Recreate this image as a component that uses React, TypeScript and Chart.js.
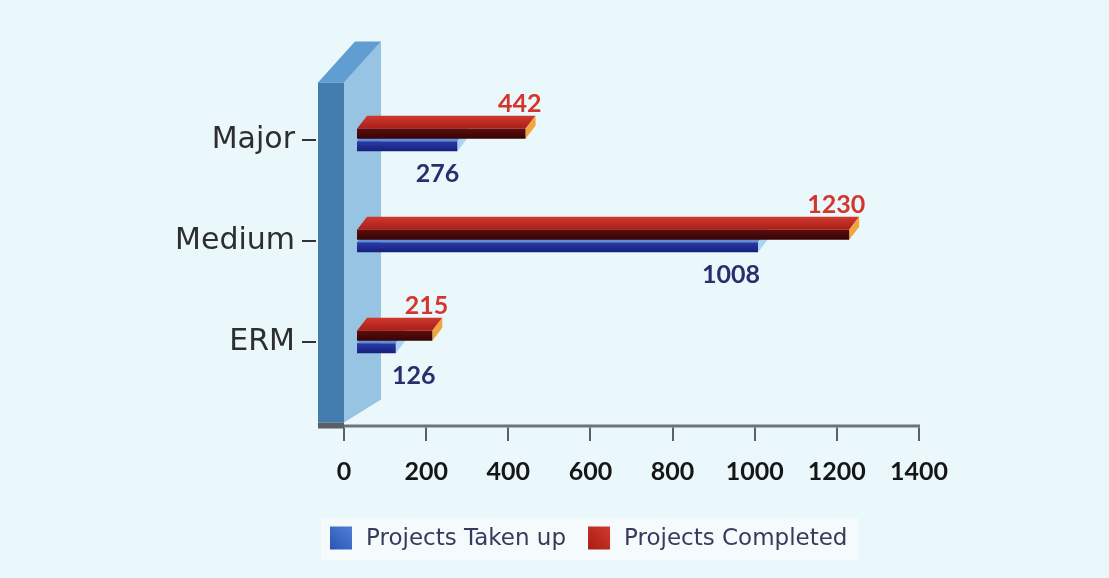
import { useEffect, useRef } from 'react';
import { Chart, registerables } from 'chart.js';

Chart.register(...registerables);

// ---- data ----
const categories = ['Major', 'Medium', 'ERM'];
const projectsTakenUp = [276, 1008, 126];
const projectsCompleted = [442, 1230, 215];
const seriesNames = ['Projects Taken up', 'Projects Completed'];
const xTickValues = [0, 200, 400, 600, 800, 1000, 1200, 1400];

// ---- styling ----
const BG = '#eaf8fb';
const DEPTH = { dx: 10, dy: 13 };
const BAR_INSET = 13; // bars emerge from the side of the wall
const WALL_DEPTH = 37;

// dataset 0 = completed (upper bar), dataset 1 = taken up (lower bar)
const faces = [
  { top: ['#d0382d', '#a81f19'], front: ['#5e0d0b', '#340404'], end: '#f2a53c', label: '#d3362f', swatch: ['#a81c14', '#d23a2c'] },
  { top: ['#7eaee8', '#5d8cd6'], front: ['#2b3ba8', '#16207a'], end: '#a9d2f3', label: '#272f6d', swatch: ['#2a55b4', '#4f80d6'] },
];

const WALL = { front: '#427dae', top: '#5f9dd2', side: '#97c4e2', base: '#5a5f6b', axis: '#6e727c' };

function poly(ctx: CanvasRenderingContext2D, pts: number[][], fill: string | CanvasGradient) {
  ctx.beginPath();
  ctx.moveTo(pts[0][0], pts[0][1]);
  for (let i = 1; i < pts.length; i++) ctx.lineTo(pts[i][0], pts[i][1]);
  ctx.closePath();
  ctx.fillStyle = fill;
  ctx.fill();
}

const threeDPlugin = {
  id: 'threeD',
  beforeDraw(chart: any) {
    const { ctx, width, height } = chart;
    ctx.save();
    ctx.fillStyle = BG;
    ctx.fillRect(0, 0, width, height);
    ctx.restore();
  },
  beforeDatasetsDraw(chart: any) {
    const { ctx, chartArea } = chart;
    const xs = chart.scales.x;
    const ys = chart.scales.y;
    const L = chartArea.left;
    const wallTop = chartArea.top - 7;
    const wallBottom = chartArea.bottom + 30;
    const frontW = 26;
    const wdx = WALL_DEPTH;
    ctx.save();
    // side face of the wall
    poly(ctx, [[L, wallTop], [L + wdx, wallTop - 41], [L + wdx, wallBottom - 23], [L, wallBottom]], WALL.side);
    // top cap
    poly(ctx, [[L - frontW, wallTop], [L, wallTop], [L + wdx, wallTop - 41], [L - frontW + wdx, wallTop - 41]], WALL.top);
    // front face
    ctx.fillStyle = WALL.front;
    ctx.fillRect(L - frontW, wallTop, frontW, wallBottom - wallTop);
    // foot of the wall
    ctx.fillStyle = WALL.base;
    ctx.fillRect(L - frontW, wallBottom, frontW, 6);

    // value axis line
    const axisY = wallBottom + 3.5;
    ctx.strokeStyle = WALL.axis;
    ctx.lineWidth = 3;
    ctx.beginPath();
    ctx.moveTo(L, axisY);
    ctx.lineTo(xs.right + 1, axisY);
    ctx.stroke();

    // value axis tick marks
    ctx.strokeStyle = '#5c5f67';
    ctx.lineWidth = 2;
    xs.ticks.forEach((t: any) => {
      const px = Math.round(xs.getPixelForValue(t.value));
      ctx.beginPath();
      ctx.moveTo(px, axisY + 1.5);
      ctx.lineTo(px, axisY + 15);
      ctx.stroke();
    });

    // category tick marks, left of the wall
    ctx.strokeStyle = '#333333';
    ctx.lineWidth = 2;
    ys.ticks.forEach((_t: any, i: number) => {
      const py = Math.round(ys.getPixelForTick(i));
      ctx.beginPath();
      ctx.moveTo(L - frontW - 16, py);
      ctx.lineTo(L - frontW - 2, py);
      ctx.stroke();
    });
    ctx.restore();
  },
  afterDatasetsDraw(chart: any) {
    const { ctx } = chart;
    const { dx, dy } = DEPTH;
    ctx.save();
    const n = chart.data.labels.length;
    for (let i = 0; i < n; i++) {
      // lower bar first, upper bar over it
      for (const di of [1, 0]) {
        const meta = chart.getDatasetMeta(di);
        const el = meta.data[i];
        const { x, y, base, height } = el.getProps(['x', 'y', 'base', 'height'], true);
        const f = faces[di];
        const left = base + BAR_INSET;
        const right = x;
        const top = y - height / 2;
        const bottom = y + height / 2;

        const tg = ctx.createLinearGradient(0, top - dy, 0, top);
        tg.addColorStop(0, f.top[0]);
        tg.addColorStop(1, f.top[1]);
        poly(ctx, [[left, top], [right, top], [right + dx, top - dy], [left + dx, top - dy]], tg);
        poly(ctx, [[right, top], [right + dx, top - dy], [right + dx, bottom - dy], [right, bottom]], f.end);
        const fg = ctx.createLinearGradient(0, top, 0, bottom);
        fg.addColorStop(0, f.front[0]);
        fg.addColorStop(1, f.front[1]);
        ctx.fillStyle = fg;
        ctx.fillRect(left, top, right - left, height);
      }
    }

    // value labels
    ctx.font = 'bold 25px Lato';
    ctx.textAlign = 'right';
    ctx.textBaseline = 'alphabetic';
    for (let i = 0; i < n; i++) {
      for (const di of [0, 1]) {
        const meta = chart.getDatasetMeta(di);
        const el = meta.data[i];
        const { x, y, base, height } = el.getProps(['x', 'y', 'base', 'height'], true);
        const text = String(chart.data.datasets[di].data[i]);
        ctx.fillStyle = faces[di].label;
        if (di === 0) {
          ctx.fillText(text, x + dx + 6, y - height / 2 - dy - 4);
        } else {
          // keep short labels clear of the wall
          const w = ctx.measureText(text).width;
          const rx = Math.max(x + 2, base + WALL_DEPTH + 11 + w);
          ctx.fillText(text, rx, y + height / 2 + 31);
        }
      }
    }
    ctx.restore();
  },
  afterDraw(chart: any) {
    const { ctx, chartArea } = chart;
    const order = [1, 0];
    const sw = 22;
    const sh = 23;
    const cy = 538;
    let cx = chartArea.left - 14;
    ctx.save();
    ctx.font = '23px "DejaVu Sans"';
    // pale panel behind the legend
    let total = 0;
    order.forEach((di, k) => {
      total += sw + 14 + ctx.measureText(chart.data.datasets[di].label).width + (k < order.length - 1 ? 22 : 0);
    });
    ctx.fillStyle = '#f5fbfd';
    ctx.fillRect(cx - 9, cy - 20, total + 20, 42);

    ctx.textBaseline = 'middle';
    ctx.textAlign = 'left';
    order.forEach((di) => {
      const f = faces[di];
      const g = ctx.createLinearGradient(cx, cy + sh / 2, cx + sw, cy - sh / 2);
      g.addColorStop(0, f.swatch[0]);
      g.addColorStop(1, f.swatch[1]);
      ctx.fillStyle = g;
      ctx.fillRect(cx, cy - sh / 2, sw, sh);
      cx += sw + 14;
      ctx.fillStyle = '#363b5b';
      const label = chart.data.datasets[di].label;
      ctx.fillText(label, cx, cy + 1);
      cx += ctx.measureText(label).width + 22;
    });
    ctx.restore();
  },
};

export default function App() {
  const canvasRef = useRef<HTMLCanvasElement | null>(null);

  useEffect(() => {
    const canvas = canvasRef.current;
    if (!canvas) return;
    const chart = new Chart(canvas, {
      type: 'bar',
      data: {
        labels: categories,
        datasets: [
          { label: seriesNames[1], data: projectsCompleted, backgroundColor: 'rgba(0,0,0,0)', borderWidth: 0 },
          { label: seriesNames[0], data: projectsTakenUp, backgroundColor: 'rgba(0,0,0,0)', borderWidth: 0 },
        ],
      },
      options: {
        indexAxis: 'y',
        responsive: false,
        animation: false,
        categoryPercentage: 0.2475,
        barPercentage: 0.8,
        layout: { padding: { top: 89.5, right: 190, left: 0, bottom: 0 } },
        plugins: { legend: { display: false }, tooltip: { enabled: false } },
        scales: {
          x: {
            type: 'linear',
            min: 0,
            max: 1400,
            afterBuildTicks: (s: any) => {
              s.ticks = xTickValues.map((v) => ({ value: v }));
            },
            afterFit: (s: any) => {
              s.height = 185.5;
            },
            grid: { display: false, drawTicks: false },
            border: { display: false },
            ticks: {
              padding: 64,
              color: '#161616',
              font: { family: 'Lato', size: 25, weight: 'bold' },
              callback: (v: any) => String(v),
            },
          },
          y: {
            type: 'category',
            afterFit: (s: any) => {
              s.width = 344;
            },
            grid: { display: false, drawTicks: false },
            border: { display: false },
            ticks: {
              padding: 49,
              color: '#2e2e2e',
              font: { family: 'DejaVu Sans', size: 30 },
            },
          },
        },
      },
      plugins: [threeDPlugin],
    });
    return () => chart.destroy();
  }, []);

  return (
    <div style={{ position: 'fixed', left: 0, top: 0, width: 1109, height: 578, background: BG }}>
      <canvas ref={canvasRef} width={1109} height={578} />
    </div>
  );
}
